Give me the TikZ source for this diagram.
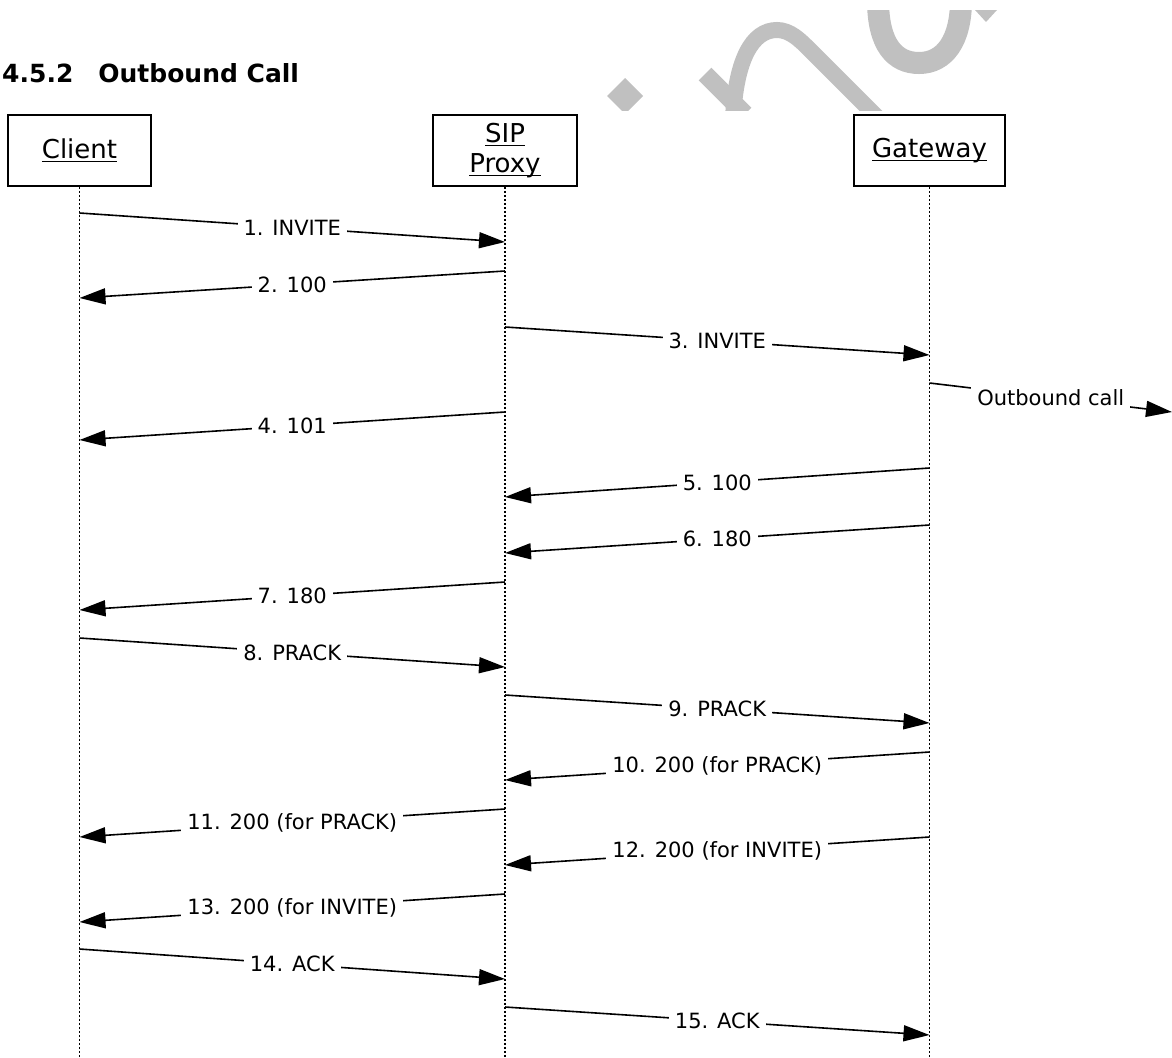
\documentclass[tikz,border=0pt]{standalone}
\usepackage{fontspec}
\setmainfont{DejaVu Sans}
\usetikzlibrary{arrows.meta}
\definecolor{wm}{RGB}{192,192,192}
\newcommand\myul[1]{\setbox0\hbox{#1}\rlap{\rule[-3.5pt]{\wd0}{1.3pt}}\box0}
\begin{document}
\begin{tikzpicture}[x=1pt,y=-1pt,
  actor/.style={draw, line width=1.8pt, minimum width=143pt, minimum height=71pt, inner sep=0pt,
    font=\fontsize{26}{30}\selectfont, align=center},
  lifeline/.style={line width=1.6pt, dash pattern=on 1.6pt off 2.4pt},
  msg/.style={line width=1.6pt, -{Triangle[length=26pt,width=16pt]}},
  lbl/.style={fill=white, inner xsep=6pt, inner ysep=2pt, font=\fontsize{21}{24}\selectfont},
  wmark/.style={draw=wm, line width=18pt}]
\useasboundingbox (0,0) rectangle (1172,1057);

% watermark (clipped)
\begin{scope}
  \clip (0,11) rectangle (1172,110);
  \fill[wm] (625,78) -- (643,96) -- (625,114) -- (607,96) -- cycle;
  \draw[wmark] (705,74) -- (745,114);
  \draw[wmark, line width=16pt] (733,118) .. controls (736,60) and (752,30) .. (777,30)
     .. controls (790,30) and (800,40) .. (810,50) -- (885,125);
  \draw[wmark, line width=22pt] (878,0) .. controls (878,45) and (895,63) .. (919,63)
     .. controls (945,63) and (961,40) .. (961,0);
  \fill[wm] (975,10) -- (997,10) -- (986,22) -- cycle;
\end{scope}

% title
\node[anchor=base west, inner sep=0pt, font=\fontsize{25}{30}\selectfont\bfseries] (title) at (2,82)
  {4.5.2\hspace{25pt}Outbound Call};

% actors
\node[actor] (client) at (79.5,150.5) {\myul{Client}};
\node[actor, minimum width=144pt] (proxy) at (505,150.5) {\myul{SIP}\\\myul{Proxy}};
\node[actor, minimum width=151pt] (gw) at (929.5,150.5) {\myul{Gateway}};

% lifelines
\coordinate (clE) at (client.south |- 0,1057);
\coordinate (prE) at (proxy.south |- 0,1057);
\coordinate (gwE) at (gw.south |- 0,1057);
\draw[lifeline] (client.south) -- (clE);
\draw[lifeline] (proxy.south) -- (prE);
\draw[lifeline] (gw.south) -- (gwE);

% message end points
\coordinate (m1s) at (79.5,213);  \coordinate (m1e) at (505,242);
\coordinate (m2s) at (505,271);   \coordinate (m2e) at (79.5,298);
\coordinate (m3s) at (505,327);   \coordinate (m3e) at (929.5,355);
\coordinate (mos) at (929.5,383); \coordinate (moe) at (1172,412);
\coordinate (m4s) at (505,412);   \coordinate (m4e) at (79.5,440);
\coordinate (m5s) at (929.5,468); \coordinate (m5e) at (505,497);
\coordinate (m6s) at (929.5,525); \coordinate (m6e) at (505,553);
\coordinate (m7s) at (505,582);   \coordinate (m7e) at (79.5,610);
\coordinate (m8s) at (79.5,638);  \coordinate (m8e) at (505,667);
\coordinate (m9s) at (505,695);   \coordinate (m9e) at (929.5,723);
\coordinate (m10s) at (929.5,752); \coordinate (m10e) at (505,780);
\coordinate (m11s) at (505,809);   \coordinate (m11e) at (79.5,837);
\coordinate (m12s) at (929.5,837); \coordinate (m12e) at (505,865);
\coordinate (m13s) at (505,894);   \coordinate (m13e) at (79.5,922);
\coordinate (m14s) at (79.5,949);  \coordinate (m14e) at (505,979);
\coordinate (m15s) at (505,1007);  \coordinate (m15e) at (929.5,1035);

% messages
\draw[msg] (m1s) -- node[lbl] {1. INVITE} (m1e);
\draw[msg] (m2s) -- node[lbl] {2. 100} (m2e);
\draw[msg] (m3s) -- node[lbl] {3. INVITE} (m3e);
\draw[msg] (mos) -- node[lbl] {Outbound call} (moe);
\draw[msg] (m4s) -- node[lbl] {4. 101} (m4e);
\draw[msg] (m5s) -- node[lbl] {5. 100} (m5e);
\draw[msg] (m6s) -- node[lbl] {6. 180} (m6e);
\draw[msg] (m7s) -- node[lbl] {7. 180} (m7e);
\draw[msg] (m8s) -- node[lbl] {8. PRACK} (m8e);
\draw[msg] (m9s) -- node[lbl] {9. PRACK} (m9e);
\draw[msg] (m10s) -- node[lbl] {10. 200 (for PRACK)} (m10e);
\draw[msg] (m11s) -- node[lbl] {11. 200 (for PRACK)} (m11e);
\draw[msg] (m12s) -- node[lbl] {12. 200 (for INVITE)} (m12e);
\draw[msg] (m13s) -- node[lbl] {13. 200 (for INVITE)} (m13e);
\draw[msg] (m14s) -- node[lbl] {14. ACK} (m14e);
\draw[msg] (m15s) -- node[lbl] {15. ACK} (m15e);
\end{tikzpicture}
\end{document}
